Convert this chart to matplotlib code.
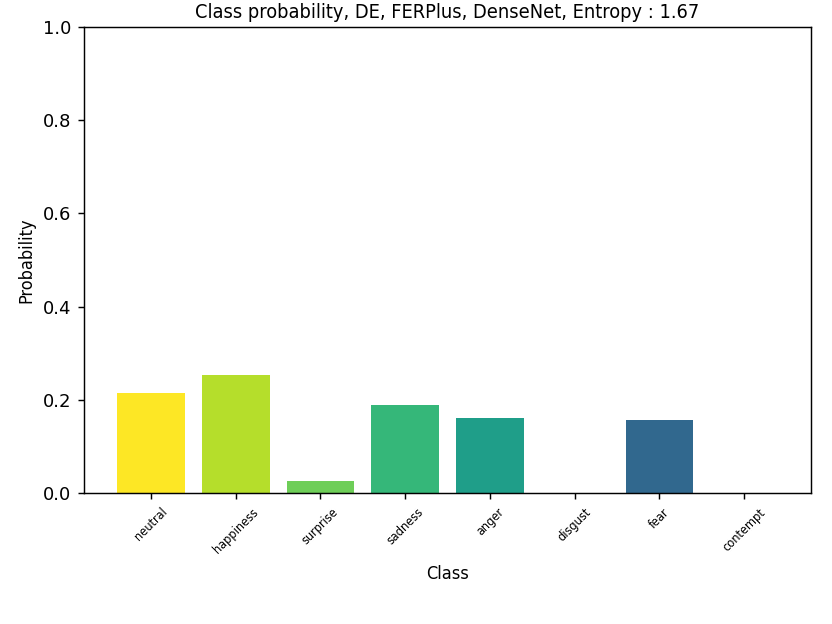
import numpy as np
import matplotlib
matplotlib.use("Agg")
import matplotlib.pyplot as plt

classes = ["neutral", "happiness", "surprise", "sadness", "anger", "disgust", "fear", "contempt"]
probs = [0.215, 0.254, 0.025, 0.189, 0.161, 0.0, 0.156, 0.0]
title = "Class probability, DE, FERPlus, DenseNet, Entropy : 1.67"

cmap = plt.get_cmap("viridis")
colors = [cmap(1 - i / 9) for i in range(len(classes))]

fig = plt.figure(figsize=(6.4, 4.8), dpi=130)
ax = fig.add_axes([0.101, 0.21, 0.874, 0.747])
x = np.arange(len(classes))
ax.bar(x, probs, color=colors, width=0.8)
ax.set_ylim(0, 1.0)
ax.set_xticks(x)
ax.set_xticklabels(classes, rotation=45, fontsize=7, fontstretch="condensed")
ax.set_xlabel("Class", fontsize=10, fontstretch="condensed", labelpad=5)
ax.set_ylabel("Probability", fontsize=10, fontstretch="condensed")
ax.set_title(title, fontsize=11, fontstretch="condensed", pad=5)
fig.savefig("out.png", dpi=130)
